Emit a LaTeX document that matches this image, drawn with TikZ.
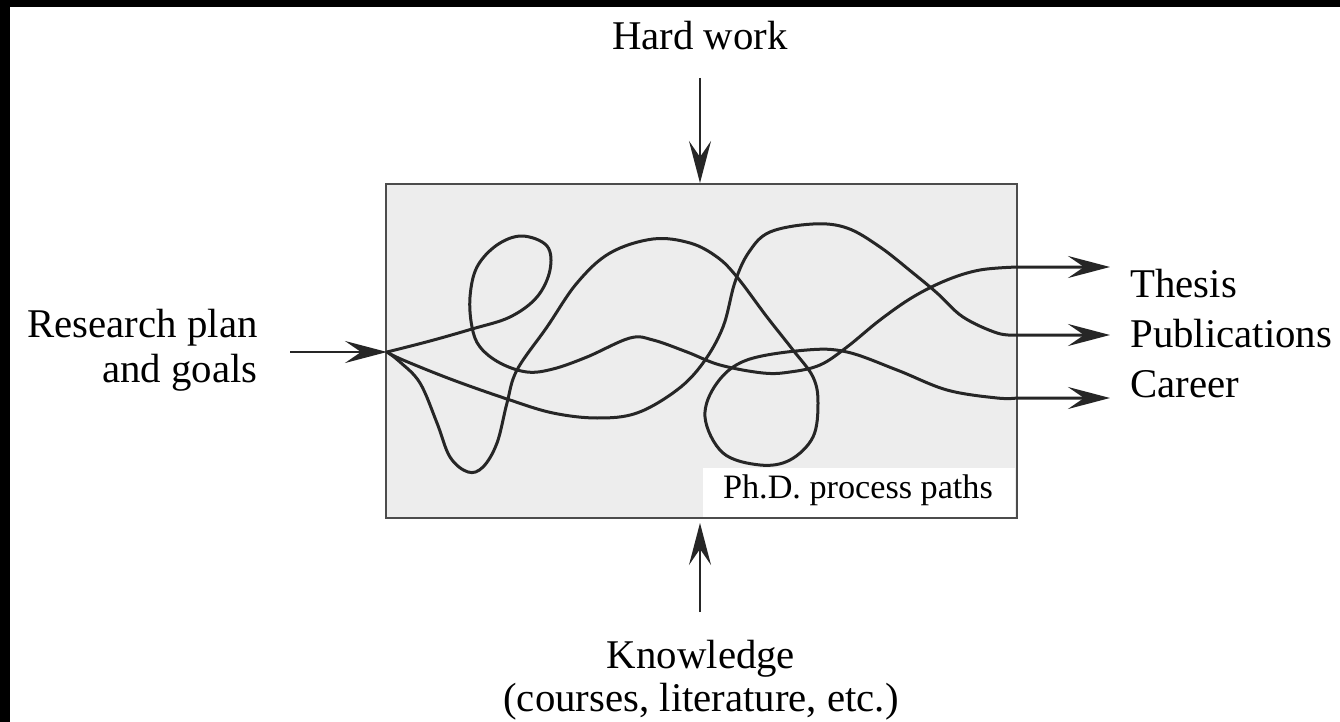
\documentclass[tikz,border=0pt]{standalone}
\usepackage{fontspec}
\setmainfont{Liberation Serif}
\usetikzlibrary{arrows.meta}
\begin{document}
\begin{tikzpicture}[x=0.5pt,y=-0.5pt,
  >={Stealth[length=21pt,width=11pt,inset=8pt]},
  lbl/.style={inner sep=0pt, font=\fontsize{17.1pt}{20pt}\selectfont,
    scale=1.193, transform shape},
  smalllbl/.style={inner sep=0pt, font=\fontsize{17.1pt}{20pt}\selectfont},
  flow/.style={line width=1.25pt, draw=black!85, ->},
  route/.style={line width=1.5pt, draw=black!85, line join=round, line cap=round},
]
\useasboundingbox (0,0) rectangle (1340,722);
\fill[white] (0,0) rectangle (1340,722);
\fill[black] (0,0) rectangle (1340,7);
\fill[black] (0,0) rectangle (10,722);

% process box
\node (box) [draw=black!70, line width=1pt, fill=black!7, inner sep=0pt,
  minimum width=315.5pt, minimum height=167pt] at (701.5,351) {};
\fill[white] (703,468) rectangle (1015,517);
\node[smalllbl, anchor=base] (caption) at (858,498) {Ph.D. process paths};

% labels
\node[lbl, anchor=base] (hard) at (700,50) {Hard work};
\node[lbl, anchor=base east] (plan1) at (258,337) {Research plan};
\node[lbl, anchor=base east] (plan2) at (258,382) {and goals};
\node[lbl, anchor=base] (know1) at (701,668) {Knowledge};
\node[lbl, anchor=base] (know2) at (701,711) {(courses, literature, etc.)};
\node[lbl, anchor=base west] (thesis) at (1130,297) {Thesis};
\node[lbl, anchor=base west] (pubs) at (1130,347) {Publications};
\node[lbl, anchor=base west] (career) at (1130,397) {Career};

% connector ends
\coordinate (S) at (387,352);
\coordinate (inTail) at (290,352);
\coordinate (hwTail) at (700,78);
\coordinate (knTail) at (700,612);
\coordinate (tipT) at (1110,267);
\coordinate (tipP) at (1110,335);
\coordinate (tipC) at (1110,398);

% inputs
\draw[flow] (inTail) -- (S);
\draw[flow] (hwTail) -- (hwTail |- box.north);
\draw[flow] (knTail) -- ([yshift=-2pt]knTail |- box.south);

% path to the thesis
\draw[route, ->] plot[smooth, tension=0.6] coordinates {
  (387,352) (430,341) (472,329) (510,317) (537,297) (550,270) (547,246)
  (522,236) (497,245) (477,267) (470,297) (472,327) (480,347) (500,363)
  (527,372) (553,369) (587,357) (630,338) (653,340) (687,352) (720,365)
  (763,373) (790,372) (820,365) (847,347) (880,320) (913,297) (947,280)
  (980,270) (1017,267)} -- (tipT);

% path to the publications
\draw[route, ->] plot[smooth, tension=0.6] coordinates {
  (387,352) (403,360) (453,380) (510,400) (553,413) (597,418) (637,413)
  (677,390) (703,363) (723,327) (735,282) (749,252) (770,232) (813,224)
  (847,228) (880,247) (913,273) (937,293) (963,317) (997,333) (1017,335)}
  -- (tipP);

% path to the career
\draw[route, ->] plot[smooth, tension=0.6] coordinates {
  (387,352) (400,362) (420,383) (437,423) (450,457) (468,472) (483,467)
  (497,443) (507,403) (517,370) (547,327) (577,283) (610,253) (653,239)
  (690,243) (717,257) (737,277) (767,317) (793,350) (813,377) (818,403)
  (813,437) (790,460) (760,465) (723,453) (705,417) (717,383) (747,360)
  (807,350) (847,352) (897,370) (947,390) (997,398) (1017,398)} -- (tipC);
\end{tikzpicture}
\end{document}
